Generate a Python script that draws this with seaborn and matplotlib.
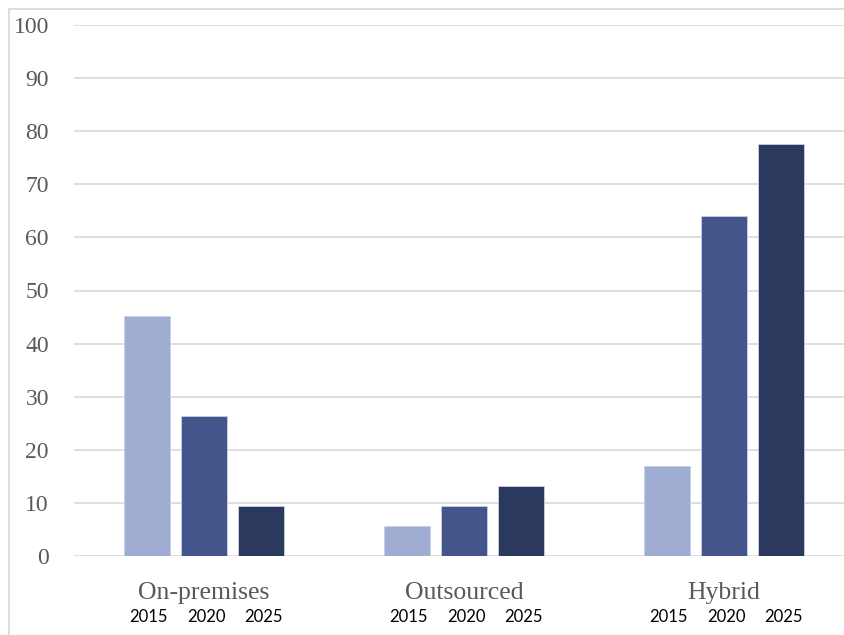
import pandas as pd
import seaborn as sns
import matplotlib.pyplot as plt
from matplotlib.patches import Rectangle

# Datos
categorias = ['On-premises', 'Outsourced', 'Hybrid']
anios = ['2015', '2020', '2025']
valores_2015 = [45.2, 5.6, 16.9]
valores_2020 = [26.4, 9.4, 64.1]
valores_2025 = [9.4, 13.2, 77.5]
colores = ['#9FADD3', '#44558C', '#2B395E']
ticks_y = [0, 10, 20, 30, 40, 50, 60, 70, 80, 90, 100]

df = pd.DataFrame({
    'categoria': categorias * 3,
    'anio': [a for a in anios for _ in categorias],
    'valor': valores_2015 + valores_2020 + valores_2025,
})

sns.set_theme(style='white')
plt.rcParams['font.family'] = ['Liberation Serif', 'DejaVu Serif']

fig = plt.figure(figsize=(8.44, 6.35), dpi=100)
ax = fig.add_axes([74 / 844, 79 / 635, 780 / 844, 531 / 635])

sns.barplot(
    data=df, x='categoria', y='valor', hue='anio', order=categorias,
    hue_order=anios, palette=colores, saturation=1, width=0.663, gap=0.2,
    edgecolor='#C9D1E6', linewidth=0.6, legend=False, ax=ax, zorder=3,
)

ax.set_ylim(0, 100)
ax.set_yticks(ticks_y)
ax.yaxis.grid(True, color='#D9D9D9', linewidth=1.2, zorder=0)
ax.set_axisbelow(True)
for s in ax.spines.values():
    s.set_visible(False)
ax.tick_params(axis='y', length=0, pad=18, labelsize=17, labelcolor='#595959')
ax.tick_params(axis='x', length=0, pad=19, labelsize=18.5, labelcolor='#595959')
ax.set_xlabel('')
ax.set_ylabel('')

# Etiquetas de año debajo de cada barra
for anio, cont in zip(anios, ax.containers):
    for barra in cont:
        cx = barra.get_x() + barra.get_width() / 2
        ax.annotate(anio, xy=(cx, 0), xycoords='data', xytext=(1.5, -44),
                    textcoords='offset points', ha='center', va='center',
                    fontsize=12, family=['Lato', 'DejaVu Sans'], color='black',
                    annotation_clip=False)

# Marco del gráfico (recortado a la derecha y abajo)
fig.patches.append(Rectangle((9 / 844, -0.1), 1.2, 1.1 - 9 / 635,
                             transform=fig.transFigure, fill=False,
                             edgecolor='#D9D9D9', linewidth=1.3))

plt.savefig('out.png', dpi=100)
plt.close()
